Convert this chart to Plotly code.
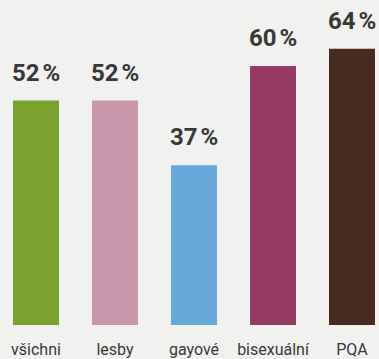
import plotly.graph_objects as go

# Share of respondents per group
groups = ["všichni", "lesby", "gayové", "bisexuální", "PQA"]
shares = [52, 52, 37, 60, 64]
bar_colors = ["#7ba12e", "#c897ab", "#66a8da", "#963a63", "#472a20"]

BG = "#f1f2f0"
TEXT = "#383838"

fig = go.Figure(
    go.Bar(
        x=groups,
        y=shares,
        marker=dict(color=bar_colors, line=dict(width=0)),
        hoverinfo="skip",
    )
)

# Value labels above each bar
for g, v in zip(groups, shares):
    fig.add_annotation(
        x=g, y=v, text=f"{v}\u202f%", showarrow=False,
        yanchor="bottom", yshift=12,
        font=dict(family="Roboto", size=24, color=TEXT, weight="bold"),
    )

fig.update_layout(
    width=379, height=359,
    margin=dict(l=0, r=0, t=0, b=32),
    paper_bgcolor=BG, plot_bgcolor=BG,
    bargap=0.418,
    showlegend=False,
    xaxis=dict(
        range=[-0.4557, 4.3418], showgrid=False, zeroline=False, showline=False,
        ticks="", ticklabelstandoff=13,
        tickfont=dict(family="Roboto", size=16, color=TEXT),
    ),
    yaxis=dict(range=[0, 75.3], visible=False),
)

fig.write_html("out.html")
